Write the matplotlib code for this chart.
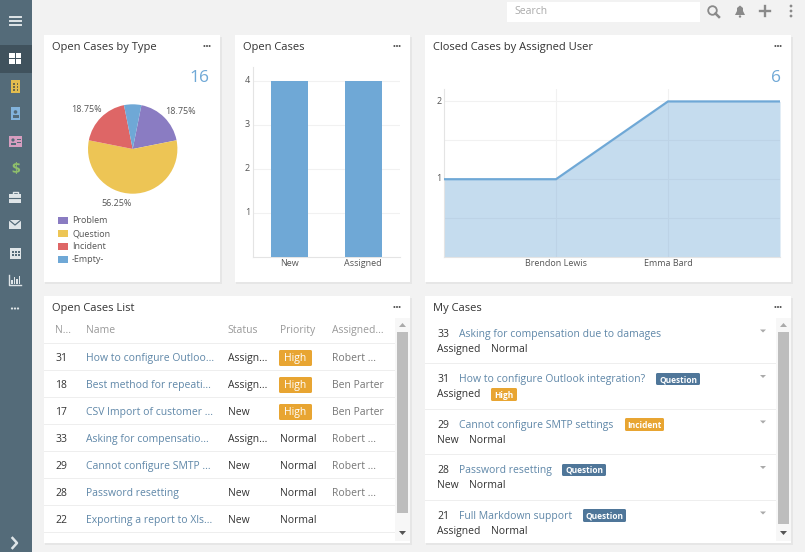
#!/usr/bin/env python3
"""Case dashboard: pie, bar and area charts plus two case lists."""

import matplotlib
matplotlib.use('Agg')
import matplotlib.pyplot as plt
from matplotlib.patches import Rectangle, FancyBboxPatch, Circle, Polygon
from matplotlib.transforms import ScaledTranslation

plt.rcParams['font.family'] = ['Open Sans', 'DejaVu Sans']

W, H = 805, 552

TYPE_LABELS = ["Problem", "Question", "Incident", "-Empty-"]
TYPE_COUNTS = [3, 9, 3, 1]

STATUS_LABELS = ["New", "Assigned"]
STATUS_COUNTS = [4, 4]

USER_LABELS = ["", "Brendon Lewis", "Emma Bard", ""]
USER_CLOSED = [1, 1, 2, 2]

LIST_HEADERS = ["N...", "Name", "Status", "Priority", "Assigned..."]
LIST_NUMBERS = ["31", "18", "17", "33", "29", "28", "22"]
LIST_NAMES = ["How to configure Outloo...", "Best method for repeati...",
              "CSV Import of customer ...", "Asking for compensatio...",
              "Cannot configure SMTP ...", "Password resetting",
              "Exporting a report to Xls..."]
LIST_STATUS = ["Assign...", "Assign...", "New", "Assign...", "New", "New", "New"]
LIST_PRIORITY = ["High", "High", "High", "Normal", "Normal", "Normal", "Normal"]
LIST_ASSIGNED = ["Robert ...", "Ben Parter", "Ben Parter", "Robert ...",
                 "Robert ...", "Robert ...", ""]

MY_NUMBERS = ["33", "31", "29", "28", "21"]
MY_NAMES = ["Asking for compensation due to damages",
            "How to configure Outlook integration?",
            "Cannot configure SMTP settings",
            "Password resetting", "Full Markdown support"]
MY_STATUS = ["Assigned", "Assigned", "New", "New", "Assigned"]
MY_PRIORITY = ["Normal", "High", "Normal", "Normal", "Normal"]
MY_TYPE = ["", "Question", "Incident", "Question", "Question"]

BG = '#f2f2f2'
SIDEBAR = '#546b79'
ACTIVE = '#40525d'
TEXT = '#333333'
MUTED = '#999999'
LINK = '#5f87a8'
BLUE = '#6fa8d6'
ORANGE = '#e8a532'
STEEL = '#4f7699'
TICK = '#555555'
GRID = '#f1f1f1'
PIE_COLORS = ['#8a7cc2', '#edc555', '#de6666', '#6fa8d6']
BODY = 7.5

fig = plt.figure(figsize=(W / 100, H / 100), dpi=100, facecolor=BG)

# whole-figure layer in screen pixels, y pointing down
ui = fig.add_axes([0, 0, 1, 1], zorder=0)
ui.set_xlim(0, W)
ui.set_ylim(H, 0)
ui.axis('off')

# text goes on its own layer so the chart axes never cover it
top = fig.add_axes([0, 0, 1, 1], zorder=5)
top.set_xlim(0, W)
top.set_ylim(H, 0)
top.axis('off')


def rect(x0, y0, x1, y1, color, ax=ui, z=1, **kw):
    ax.add_patch(Rectangle((x0, y0), x1 - x0, y1 - y0, facecolor=color,
                           edgecolor='none', zorder=z, **kw))


def label(x, y, s, size=BODY, color=TEXT, ha='left', **kw):
    # browser text sits a bit lower than matplotlib's centre alignment
    top.text(x, y + 1.9, s, fontsize=size, color=color, ha=ha, va='center', **kw)


def badge(x0, y0, x1, y1, s, color, size):
    top.add_patch(FancyBboxPatch((x0 + 1, y0 + 1), x1 - x0 - 2, y1 - y0 - 2,
                                 boxstyle='round,pad=1,rounding_size=1.5',
                                 facecolor=color, edgecolor='none', zorder=2))
    top.text((x0 + x1) / 2, (y0 + y1) / 2 + 0.5, s, fontsize=size, color='white',
             ha='center', va='center', zorder=3,
             fontweight='bold' if size < 7 else 'normal')


def menu_dots(x, y, color='#555555', r=1.0, gap=2.6):
    for dx in (-gap, 0, gap):
        top.add_patch(Circle((x + dx, y), r, facecolor=color, edgecolor='none'))


def panel(x0, y0, x1, y1, title):
    rect(x0 + 1, y0 + 2, x1 + 2, y1 + 2, '#e6e6e6', z=1)
    rect(x0, y0, x1, y1, 'white', z=2)
    label(x0 + 8, y0 + 10.5, title, size=8.05, color=TEXT)
    menu_dots(x1 - 13, y0 + 11)


def px_axes(x0, y0, x1, y1):
    ax = fig.add_axes([x0 / W, 1 - y1 / H, (x1 - x0) / W, (y1 - y0) / H], zorder=2)
    ax.patch.set_alpha(0)
    return ax


def style_chart(ax):
    for side in ('top', 'right'):
        ax.spines[side].set_visible(False)
    for side in ('left', 'bottom'):
        ax.spines[side].set_color('#e4e4e4')
        ax.spines[side].set_linewidth(0.8)
    ax.tick_params(length=0, labelsize=6.5, labelcolor=TICK)
    ax.tick_params(axis='x', pad=1.5)
    ax.tick_params(axis='y', pad=2)
    ax.set_axisbelow(True)
    # y labels sit a little above their grid lines
    up = ScaledTranslation(0, 1 / 72, fig.dpi_scale_trans)
    for t in ax.get_yticklabels():
        t.set_transform(t.get_transform() + up)


def scrollbar(x0, x1, thumb_bottom):
    rect(x0, 318, x1, 541, '#f7f7f7', z=3)
    rect(x0 + 2, 332, x1 - 2, thumb_bottom, '#bdbdbd', z=4)
    cx = (x0 + x1) / 2
    ui.add_patch(Polygon([(cx - 3.5, 327), (cx + 3.5, 327), (cx, 323)],
                         facecolor='#aaaaaa', edgecolor='none', zorder=4))
    ui.add_patch(Polygon([(cx - 3.5, 531), (cx + 3.5, 531), (cx, 535)],
                         facecolor='#555555', edgecolor='none', zorder=4))


def draw_sidebar():
    rect(0, 0, 32, H, SIDEBAR)
    rect(0, 45, 32, 73, ACTIVE)
    light = '#dfe5e8'
    for y in (16.5, 20.5, 24.5):
        ui.plot([10, 21], [y, y], color=light, lw=1.4, zorder=3)
    # dashboards
    for x, y in ((9, 53), (15.5, 53), (9, 59), (15.5, 59)):
        rect(x, y, x + 5.5, y + 5, 'white', z=3)
    # accounts
    rect(11, 80, 20, 93, '#e3bd4f', z=3)
    for y in (83, 86, 89):
        for x in (13, 16.5):
            rect(x, y, x + 1.5, y + 1.5, '#6d6a4b', z=4)
    # contacts
    rect(11, 107, 20, 120, '#82b3dc', z=3)
    top.add_patch(Circle((15.5, 112), 1.8, facecolor=SIDEBAR, edgecolor='none'))
    rect(12.5, 115, 18.5, 118, SIDEBAR, ax=top)
    # leads
    rect(9, 136, 22, 147, '#d79ec0', z=3)
    top.add_patch(Circle((13, 140), 1.6, facecolor=SIDEBAR, edgecolor='none'))
    rect(10.5, 142.5, 15.5, 145, SIDEBAR, ax=top)
    rect(17, 139, 21, 140, SIDEBAR, ax=top)
    rect(17, 142, 21, 143, SIDEBAR, ax=top)
    # opportunities
    label(15.5, 167.5, "$", size=11, color='#8fbf6b', ha='center', fontweight='bold')
    # cases
    rect(9, 194, 21, 203, light, z=3)
    ui.plot([13, 13, 17.5, 17.5], [194, 191.5, 191.5, 194], color=light, lw=1, zorder=3)
    ui.plot([9, 21], [198, 198], color=SIDEBAR, lw=0.8, zorder=4)
    # email
    rect(9, 220, 21, 229, light, z=3)
    ui.plot([9, 15, 21], [220, 225, 220], color=SIDEBAR, lw=0.9, zorder=4)
    # calendar
    rect(10, 248, 21, 259, light, z=3)
    for x in (11.5, 14.5, 17.5):
        for y in (251, 254):
            rect(x, y, x + 2, y + 2, SIDEBAR, z=4)
    # reports
    ui.plot([9, 9, 21], [275, 285, 285], color=light, lw=1, zorder=3)
    for x, h in ((11, 4), (13.5, 7), (16, 5), (18.5, 8)):
        rect(x, 284 - h, x + 1.6, 284, light, z=3)
    menu_dots(15, 308.5, color=light, r=1.1, gap=3)
    ui.plot([12.5, 17, 12.5], [538, 543, 548], color=light, lw=1.8, zorder=3)


def draw_topbar():
    rect(507, 2, 700, 22, 'white')
    label(514, 9.8, "Search", size=7.5, color='#aaaaaa')
    grey = '#8a8a8a'
    top.add_patch(Circle((712.5, 10.5), 4.3, facecolor='none', edgecolor=grey, lw=1.3))
    top.plot([715.5, 719], [13.5, 17], color=grey, lw=1.8)
    # bell
    top.add_patch(Polygon([(735, 15), (745, 15), (743, 11), (743, 8), (740, 5.5),
                           (737, 8), (737, 11)], facecolor=grey, edgecolor='none'))
    top.add_patch(Circle((740, 16.5), 1.2, facecolor=grey, edgecolor='none'))
    top.plot([760, 770], [11, 11], color=grey, lw=1.7)
    top.plot([765, 765], [6, 16], color=grey, lw=1.7)
    for y in (6, 11, 16):
        top.add_patch(Circle((791, y), 1.4, facecolor=grey, edgecolor='none'))


def draw_pie():
    panel(44, 35, 220, 282, "Open Cases by Type")
    label(209, 76, str(sum(TYPE_COUNTS)), size=12.5, color=BLUE, ha='right')
    ax = px_axes(88, 104.3, 177.4, 193.7)
    ax.pie(TYPE_COUNTS, colors=PIE_COLORS, startangle=78.75, counterclock=False,
           radius=1.0)
    ax.set_xlim(-1, 1)
    ax.set_ylim(-1, 1)
    total = sum(TYPE_COUNTS)
    pct = [f"{100 * c / total:.2f}%" for c in TYPE_COUNTS]
    label(180, 109.8, pct[0], size=6.5, color=TICK, ha='center')
    label(117, 201.8, pct[1], size=6.5, color=TICK, ha='center')
    label(86, 107.8, pct[2], size=6.5, color=TICK, ha='center')
    for i, name in enumerate(TYPE_LABELS):
        y = 220 + 13 * i
        rect(58, y - 3.5, 68, y + 3.5, PIE_COLORS[i], z=3)
        label(72, y - 1.2, name, size=6.5, color=TICK)


def draw_bars():
    panel(235, 35, 410, 282, "Open Cases")
    ax = px_axes(252.7, 67, 400, 257)
    ax.bar(range(len(STATUS_LABELS)), STATUS_COUNTS, width=0.5, color=BLUE, zorder=3)
    ax.set_xlim(-0.5, 1.5)
    ax.set_ylim(0, 4.32)
    ax.set_xticks(range(len(STATUS_LABELS)), STATUS_LABELS)
    ax.set_yticks([1, 2, 3, 4])
    ax.grid(axis='y', color=GRID, lw=0.8)
    style_chart(ax)


def draw_area():
    panel(425, 35, 791, 282, "Closed Cases by Assigned User")
    label(781, 76, str(sum(USER_CLOSED)), size=12.5, color=BLUE, ha='right')
    ax = px_axes(444, 89, 780, 257)
    xs = range(len(USER_CLOSED))
    ax.fill_between(xs, USER_CLOSED, color=BLUE, alpha=0.4, lw=0, zorder=2)
    ax.plot(xs, USER_CLOSED, color=BLUE, lw=1.6, zorder=3, solid_joinstyle='miter')
    ax.set_xlim(0, 3)
    ax.set_ylim(0, 2.16)
    ax.set_xticks([1, 2], USER_LABELS[1:3])
    ax.set_yticks([0.5, 1, 1.5, 2], ['', '1', '', '2'])
    ax.grid(color=GRID, lw=0.8)
    style_chart(ax)


def draw_list():
    panel(44, 296, 410, 543, "Open Cases List")
    cols = [55, 86, 227.5, 279.5, 331.5]
    for x, head in zip(cols, LIST_HEADERS):
        label(x, 329, head, color=MUTED)
    rect(44, 343, 395, 344, '#eeeeee', z=3)
    for i, num in enumerate(LIST_NUMBERS):
        y = 356.5 + 27 * i
        rect(44, y + 13.5, 395, y + 14.5, '#eeeeee', z=3)
        label(cols[0], y, num)
        label(cols[1], y, LIST_NAMES[i], color=LINK)
        label(cols[2], y, LIST_STATUS[i])
        if LIST_PRIORITY[i] == "High":
            badge(279, y - 6.5, 312, y + 9.5, "High", ORANGE, BODY)
        else:
            label(cols[3], y, LIST_PRIORITY[i])
        label(cols[4], y, LIST_ASSIGNED[i], color='#777777')
    scrollbar(395, 410, 513)


def draw_my_cases():
    panel(425, 296, 791, 543, "My Cases")
    title_y = [332.5, 378, 423.5, 469, 514.5]
    type_boxes = [None, (656, 373, 700, 385), (625, 418, 664, 431),
                  (562, 464, 606, 476), (583, 509, 626, 522)]
    for i, num in enumerate(MY_NUMBERS):
        y = title_y[i]
        label(437, y, num)
        label(459, y, MY_NAMES[i], color=LINK)
        if type_boxes[i]:
            x0, y0, x1, y1 = type_boxes[i]
            color = ORANGE if MY_TYPE[i] == "Incident" else STEEL
            badge(x0, y0, x1, y1, MY_TYPE[i], color, 6)
        sub = y + 15
        label(437, sub, MY_STATUS[i])
        px = 491 if MY_STATUS[i] == "Assigned" else 469
        if MY_PRIORITY[i] == "High":
            badge(px, sub - 5, px + 26, sub + 8, "High", ORANGE, 6)
        else:
            label(px, sub, MY_PRIORITY[i])
        cy = y - 3
        top.add_patch(Polygon([(760, cy), (766, cy), (763, cy + 3)],
                              facecolor='#aaaaaa', edgecolor='none'))
        if i:
            rect(425, y - 15, 776, y - 14, '#eeeeee', z=3)
    scrollbar(776, 791, 524)


draw_sidebar()
draw_topbar()
draw_pie()
draw_bars()
draw_area()
draw_list()
draw_my_cases()

fig.savefig('out.png', dpi=100, facecolor=BG)
plt.close(fig)
